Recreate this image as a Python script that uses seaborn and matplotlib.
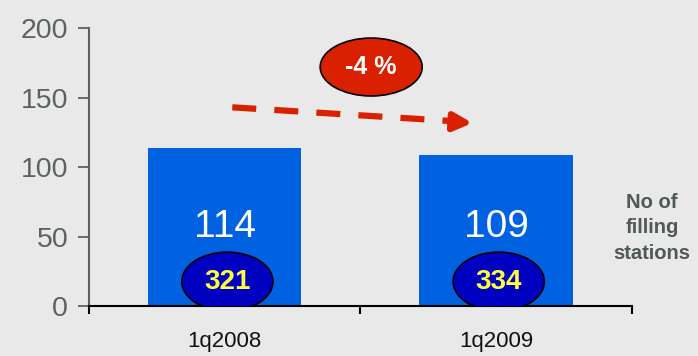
import matplotlib.pyplot as plt
import seaborn as sns
import pandas as pd
from matplotlib.patches import Ellipse

quarters = ["1q2008", "1q2009"]
sales = [114, 109]
stations = [321, 334]
change_label = "-4 %"
side_label = "No of\nfilling\nstations"

bg = "#e9e9e9"
grey = "#5a6262"

sns.set_theme(style="white")
plt.rcParams["font.family"] = ["Liberation Sans", "DejaVu Sans"]

df = pd.DataFrame({"quarter": quarters, "value": sales})

fig = plt.figure(figsize=(6.98, 3.56), dpi=100, facecolor=bg)
ax = fig.add_axes([0.1275, 0.1404, 0.7775, 0.7806])
ax.set_facecolor(bg)

sns.barplot(data=df, x="quarter", y="value", color="#0062e0", saturation=1,
            width=0.565, linewidth=0, edgecolor="none", ax=ax)

ax.set_xlim(-0.5, 1.5)
ax.set_ylim(0, 200)
ax.set_yticks([0, 50, 100, 150, 200])
ax.set_xlabel("")
ax.set_ylabel("")

for s in ["top", "right"]:
    ax.spines[s].set_visible(False)
ax.spines["left"].set_color(grey)
ax.spines["left"].set_linewidth(1.5)
ax.spines["bottom"].set_color("black")
ax.spines["bottom"].set_linewidth(1.5)

ax.tick_params(axis="y", which="major", direction="out", length=8, width=1.3,
               color=grey, labelcolor=grey, labelsize=20.5, pad=7, left=True)
ax.tick_params(axis="x", which="major", length=0, labelsize=16,
               labelcolor="#111111", pad=18)
ax.set_xticks([-0.5, 0.5, 1.5], minor=True)
ax.tick_params(axis="x", which="minor", direction="out", length=6, width=1.5,
               color="black", bottom=True)

for i, (v, n) in enumerate(zip(sales, stations)):
    ax.text(i, 57, str(v), color="white", fontsize=28, ha="center", va="center")
    ax.add_patch(Ellipse((i + 0.01, 17.6), 0.336, 42.4, facecolor="#0000c0",
                         edgecolor="black", linewidth=1.2, zorder=3))
    ax.text(i + 0.01, 17.6, str(n), color="#ffff40", fontsize=20,
            fontweight="bold", ha="center", va="center", zorder=4)

# trend arrow: dashed shaft plus a short solid piece with the head
x0, y0, x1, y1 = 0.028, 143, 0.83, 133.2
ax.plot([x0, x1], [y0, y1], color="#d92000", linewidth=4.5,
        linestyle=(0, (3.84, 2.9)), solid_capstyle="butt", dash_capstyle="butt")
ax.annotate("", xy=(0.913, 131.7), xytext=(0.83, 132.7),
            arrowprops=dict(arrowstyle="-|>,head_length=0.9,head_width=0.45",
                            color="#d92000", lw=4.5, shrinkA=0, shrinkB=0))

ax.add_patch(Ellipse((0.54, 172), 0.376, 41.7, facecolor="#d92000",
                     edgecolor="black", linewidth=1.2, zorder=3))
ax.text(0.54, 172, change_label, color="white", fontsize=18,
        fontweight="bold", ha="center", va="center", zorder=4)

fig.text(0.934, 0.36, side_label, color="#505858", fontsize=14.5,
         fontweight="bold", ha="center", va="center", linespacing=1.45)

fig.savefig("out.png", dpi=100, facecolor=bg)
